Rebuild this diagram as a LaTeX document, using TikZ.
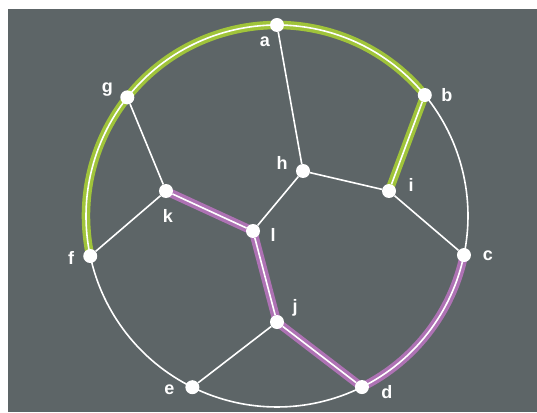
\documentclass[tikz,border=0pt]{standalone}
\usepackage{fontspec}
\setsansfont{Liberation Sans}
\usepackage{tikz}
\usetikzlibrary{calc}

\definecolor{board}{RGB}{93,101,103}
\definecolor{pathgreen}{RGB}{160,196,58}
\definecolor{pathpurple}{RGB}{174,114,180}

\pgfdeclarelayer{back}
\pgfdeclarelayer{band}
\pgfdeclarelayer{wires}
\pgfsetlayers{back,band,wires,main}

\begin{document}
\begin{tikzpicture}[
    x=1pt, y=1pt,
    vtx/.style={circle, fill=white, inner sep=0pt, minimum size=14pt},
    lbl/.style={text=white, inner sep=0pt, font=\sffamily\bfseries\fontsize{18}{20}\selectfont},
    wire/.style={draw=white, line width=1.6pt},
    gband/.style={draw=pathgreen, line width=8.5pt, line join=round},
    pband/.style={draw=pathpurple, line width=8.5pt, line join=round}
  ]
    \useasboundingbox (-277,-196) rectangle (260,216);
    \begin{pgfonlayer}{back}
      \fill[white] (-277,-196) rectangle (260,216);
      \fill[board] (-269,-196) rectangle (260,207);
    \end{pgfonlayer}

    % rim vertices
    \node[vtx] (a) at (90:191pt) {};
    \node[vtx] (b) at (39.3:191pt) {};
    \node[vtx] (c) at (-11.8:191pt) {};
    \node[vtx] (d) at (-63.6:191pt) {};
    \node[vtx] (e) at (-116.3:191pt) {};
    \node[vtx] (f) at (-167.9:191pt) {};
    \node[vtx] (g) at (141.6:191pt) {};
    % inner vertices
    \node[vtx] (h) at (26,45) {};
    \node[vtx] (i) at (112,25) {};
    \node[vtx] (k) at (-111,25) {};
    \node[vtx] (l) at (-24,-15) {};
    \node[vtx] (j) at (0,-106) {};

    \node[lbl] (ta) at ($(a)+(-12,-17)$) {a};
    \node[lbl] (tb) at ($(b)+(22,0)$) {b};
    \node[lbl] (tc) at ($(c)+(24,-1)$) {c};
    \node[lbl] (td) at ($(d)+(25,-5)$) {d};
    \node[lbl] (te) at ($(e)+(-23,-3)$) {e};
    \node[lbl] (tf) at ($(f)+(-19,-2)$) {f};
    \node[lbl] (tg) at ($(g)+(-20,8)$) {g};
    \node[lbl] (th) at ($(h)+(-21,8)$) {h};
    \node[lbl] (ti) at ($(i)+(22,6)$) {i};
    \node[lbl] (tk) at ($(k)+(2,-25)$) {k};
    \node[lbl] (tl) at ($(l)+(20,-4)$) {l};
    \node[lbl] (tj) at ($(j)+(18,14)$) {j};

    \begin{pgfonlayer}{band}
      \draw[gband] (f.center) arc[start angle=192.1, end angle=39.3, radius=191pt] -- (i.center);
      \draw[pband] (k.center) -- (l.center) -- (j.center) -- (d.center)
        arc[start angle=-63.6, end angle=-11.8, radius=191pt];
    \end{pgfonlayer}

    \begin{pgfonlayer}{wires}
      \draw[wire] (a.center) arc[start angle=90, end angle=39.3, radius=191pt];
      \draw[wire] (b.center) arc[start angle=39.3, end angle=-11.8, radius=191pt];
      \draw[wire] (c.center) arc[start angle=-11.8, end angle=-63.6, radius=191pt];
      \draw[wire] (d.center) arc[start angle=-63.6, end angle=-116.3, radius=191pt];
      \draw[wire] (e.center) arc[start angle=-116.3, end angle=-167.9, radius=191pt];
      \draw[wire] (f.center) arc[start angle=192.1, end angle=141.6, radius=191pt];
      \draw[wire] (g.center) arc[start angle=141.6, end angle=90, radius=191pt];
      \draw[wire] (a) -- (h);
      \draw[wire] (h) -- (i);
      \draw[wire] (h) -- (l);
      \draw[wire] (b) -- (i);
      \draw[wire] (i) -- (c);
      \draw[wire] (g) -- (k);
      \draw[wire] (k) -- (f);
      \draw[wire] (k) -- (l);
      \draw[wire] (l) -- (j);
      \draw[wire] (j) -- (e);
      \draw[wire] (j) -- (d);
    \end{pgfonlayer}
  \end{tikzpicture}
\end{document}
